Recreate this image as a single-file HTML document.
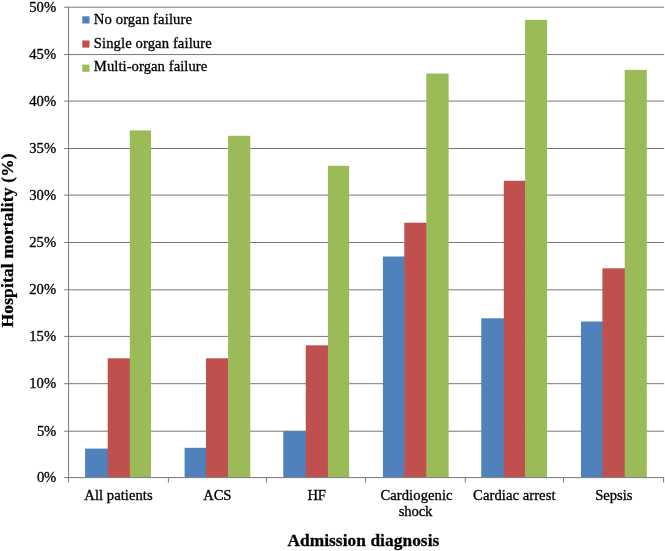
<!DOCTYPE html><html><head><meta charset="utf-8"><title>Hospital mortality by admission diagnosis</title>
<style>html,body{margin:0;padding:0;background:#fff}svg{display:block}text{stroke:#000;stroke-width:0.3px;font-family:"Liberation Serif","Times New Roman",serif;fill:#000}</style></head><body>
<svg width="665" height="551" viewBox="0 0 665 551">
<rect width="665" height="551" fill="#fff"/>
<line x1="64.10" y1="477.60" x2="664.10" y2="477.60" stroke="#787878" stroke-width="1"/>
<line x1="64.10" y1="431.20" x2="664.10" y2="431.20" stroke="#787878" stroke-width="1"/>
<line x1="64.10" y1="383.70" x2="664.10" y2="383.70" stroke="#787878" stroke-width="1"/>
<line x1="64.10" y1="336.40" x2="664.10" y2="336.40" stroke="#787878" stroke-width="1"/>
<line x1="64.10" y1="289.80" x2="664.10" y2="289.80" stroke="#787878" stroke-width="1"/>
<line x1="64.10" y1="242.50" x2="664.10" y2="242.50" stroke="#787878" stroke-width="1"/>
<line x1="64.10" y1="195.10" x2="664.10" y2="195.10" stroke="#787878" stroke-width="1"/>
<line x1="64.10" y1="148.50" x2="664.10" y2="148.50" stroke="#787878" stroke-width="1"/>
<line x1="64.10" y1="101.10" x2="664.10" y2="101.10" stroke="#787878" stroke-width="1"/>
<line x1="64.10" y1="54.55" x2="664.10" y2="54.55" stroke="#787878" stroke-width="1"/>
<line x1="64.10" y1="7.20" x2="664.10" y2="7.20" stroke="#787878" stroke-width="1"/>
<line x1="68.60" y1="7" x2="68.60" y2="478.10" stroke="#787878" stroke-width="1"/>
<line x1="68.60" y1="477.60" x2="68.60" y2="482.60" stroke="#787878" stroke-width="1"/>
<line x1="168.40" y1="477.60" x2="168.40" y2="482.60" stroke="#787878" stroke-width="1"/>
<line x1="266.60" y1="477.60" x2="266.60" y2="482.60" stroke="#787878" stroke-width="1"/>
<line x1="365.40" y1="477.60" x2="365.40" y2="482.60" stroke="#787878" stroke-width="1"/>
<line x1="465.20" y1="477.60" x2="465.20" y2="482.60" stroke="#787878" stroke-width="1"/>
<line x1="563.60" y1="477.60" x2="563.60" y2="482.60" stroke="#787878" stroke-width="1"/>
<line x1="663.60" y1="477.60" x2="663.60" y2="482.60" stroke="#787878" stroke-width="1"/>
<rect x="85.05" y="448.60" width="23.25" height="28.40" fill="#4f81bd"/>
<rect x="107.70" y="358.30" width="22.70" height="118.70" fill="#c0504d"/>
<rect x="129.80" y="130.40" width="21.20" height="346.60" fill="#9bbb59"/>
<rect x="184.60" y="447.80" width="22.00" height="29.20" fill="#4f81bd"/>
<rect x="206.00" y="358.30" width="22.70" height="118.70" fill="#c0504d"/>
<rect x="228.10" y="135.80" width="22.20" height="341.20" fill="#9bbb59"/>
<rect x="283.25" y="431.00" width="23.10" height="46.00" fill="#4f81bd"/>
<rect x="305.75" y="345.30" width="22.75" height="131.70" fill="#c0504d"/>
<rect x="327.90" y="165.80" width="21.25" height="311.20" fill="#9bbb59"/>
<rect x="382.95" y="256.50" width="21.95" height="220.50" fill="#4f81bd"/>
<rect x="404.30" y="222.70" width="22.60" height="254.30" fill="#c0504d"/>
<rect x="426.30" y="73.50" width="22.35" height="403.50" fill="#9bbb59"/>
<rect x="481.25" y="318.30" width="23.15" height="158.70" fill="#4f81bd"/>
<rect x="503.80" y="180.75" width="21.90" height="296.25" fill="#c0504d"/>
<rect x="525.10" y="19.85" width="21.95" height="457.15" fill="#9bbb59"/>
<rect x="580.95" y="321.50" width="22.05" height="155.50" fill="#4f81bd"/>
<rect x="602.40" y="268.30" width="22.90" height="208.70" fill="#c0504d"/>
<rect x="624.70" y="69.90" width="22.10" height="407.10" fill="#9bbb59"/>
<text x="56.2" y="482.00" font-size="14.67" text-anchor="end" textLength="19.3" lengthAdjust="spacing">0%</text>
<text x="56.2" y="435.60" font-size="14.67" text-anchor="end" textLength="19.3" lengthAdjust="spacing">5%</text>
<text x="56.2" y="388.10" font-size="14.67" text-anchor="end" textLength="27" lengthAdjust="spacing">10%</text>
<text x="56.2" y="340.80" font-size="14.67" text-anchor="end" textLength="27" lengthAdjust="spacing">15%</text>
<text x="56.2" y="294.20" font-size="14.67" text-anchor="end" textLength="27" lengthAdjust="spacing">20%</text>
<text x="56.2" y="246.90" font-size="14.67" text-anchor="end" textLength="27" lengthAdjust="spacing">25%</text>
<text x="56.2" y="199.50" font-size="14.67" text-anchor="end" textLength="27" lengthAdjust="spacing">30%</text>
<text x="56.2" y="152.90" font-size="14.67" text-anchor="end" textLength="27" lengthAdjust="spacing">35%</text>
<text x="56.2" y="105.50" font-size="14.67" text-anchor="end" textLength="27" lengthAdjust="spacing">40%</text>
<text x="56.2" y="58.95" font-size="14.67" text-anchor="end" textLength="27" lengthAdjust="spacing">45%</text>
<text x="56.2" y="11.60" font-size="14.67" text-anchor="end" textLength="27" lengthAdjust="spacing">50%</text>
<rect x="82.3" y="16.30" width="7.2" height="7.2" fill="#4f81bd"/>
<text x="93.8" y="24.25" font-size="14.67" textLength="98.2" lengthAdjust="spacing">No organ failure</text>
<rect x="82.3" y="40.45" width="7.2" height="7.2" fill="#c0504d"/>
<text x="93.8" y="48.3" font-size="14.67" textLength="117.9" lengthAdjust="spacing">Single organ failure</text>
<rect x="82.3" y="64.60" width="7.2" height="7.2" fill="#9bbb59"/>
<text x="93.8" y="71.4" font-size="14.67" textLength="113.5" lengthAdjust="spacing">Multi-organ failure</text>
<text x="84.3" y="499.6" font-size="14.67" textLength="68.4" lengthAdjust="spacing">All patients</text>
<text x="203.2" y="499.6" font-size="14.67" textLength="28.2" lengthAdjust="spacing">ACS</text>
<text x="307.6" y="499.6" font-size="14.67" textLength="18.3" lengthAdjust="spacing">HF</text>
<text x="380.4" y="499.6" font-size="14.67" textLength="72.2" lengthAdjust="spacing">Cardiogenic</text>
<text x="398.7" y="515.8" font-size="14.67" textLength="33.7" lengthAdjust="spacing">shock</text>
<text x="473.1" y="499.6" font-size="14.67" textLength="82.4" lengthAdjust="spacing">Cardiac arrest</text>
<text x="595.2" y="499.6" font-size="14.67" textLength="37.3" lengthAdjust="spacing">Sepsis</text>
<text x="287.4" y="545.5" font-size="17.33" font-weight="bold" textLength="151.9" lengthAdjust="spacing">Admission diagnosis</text>
<text transform="translate(12.6,327.4) rotate(-90)" font-size="17.33" font-weight="bold" textLength="173.9" lengthAdjust="spacing">Hospital mortality (%)</text>
</svg></body></html>
